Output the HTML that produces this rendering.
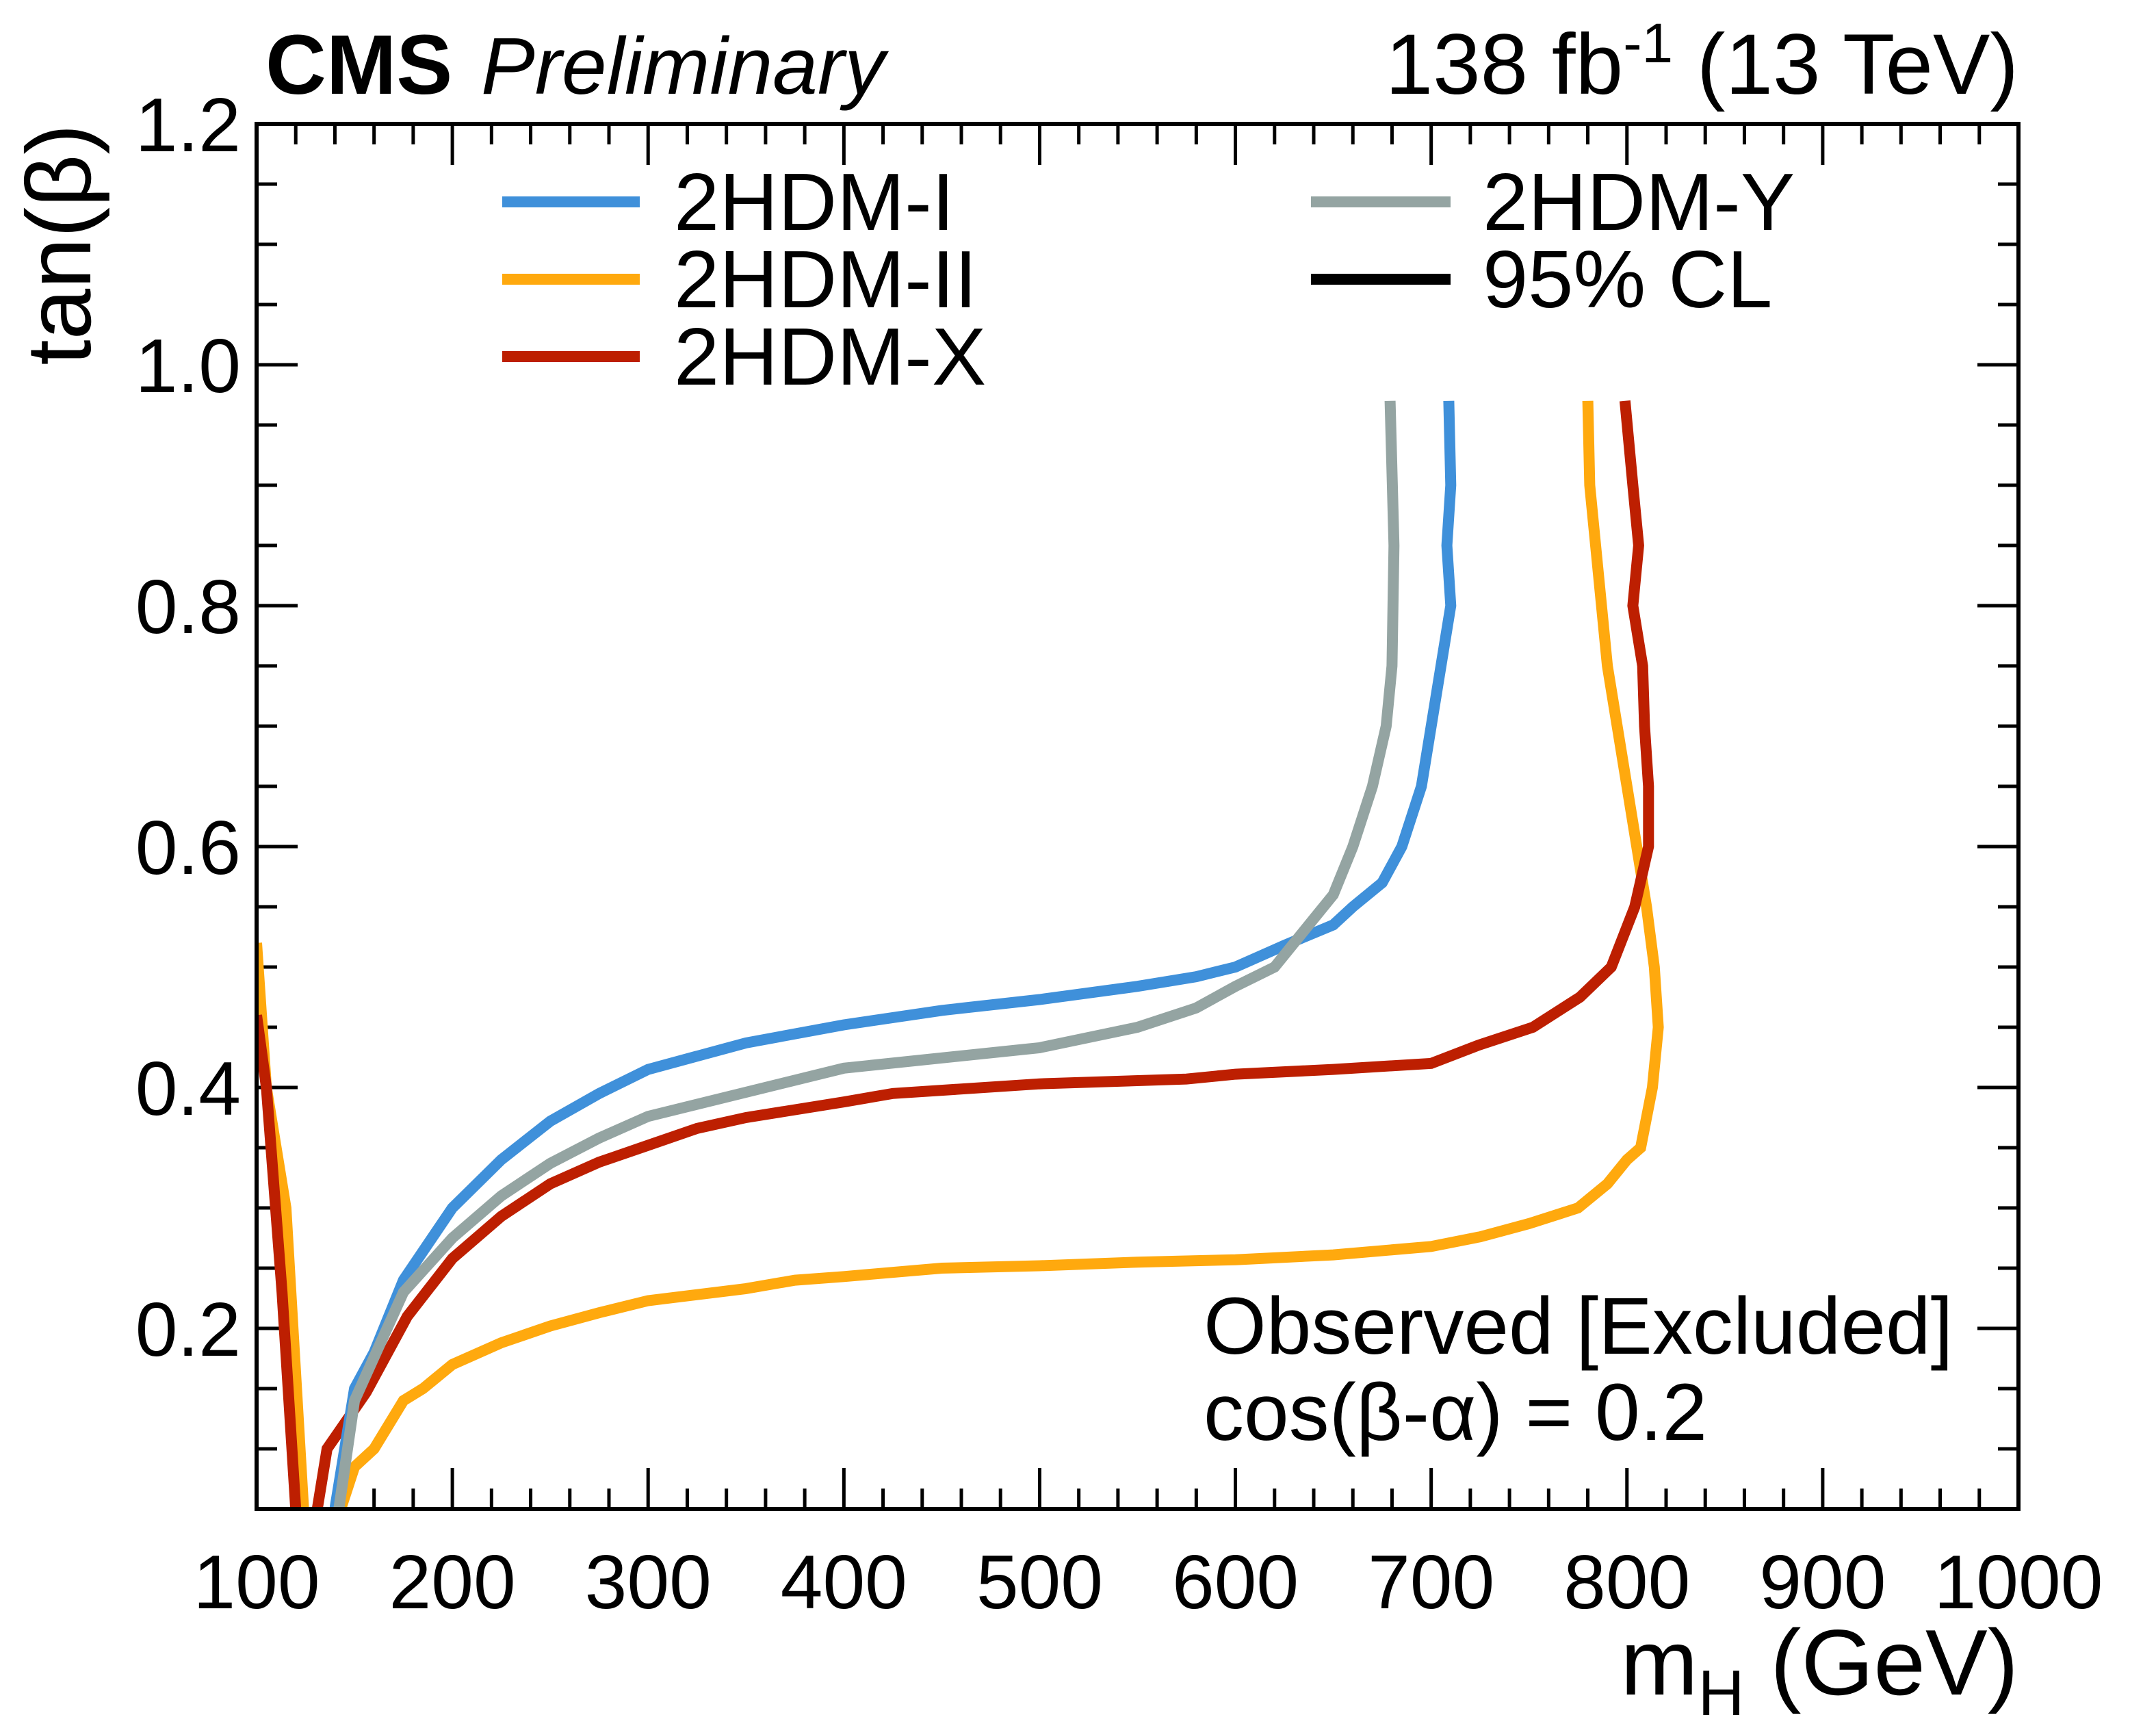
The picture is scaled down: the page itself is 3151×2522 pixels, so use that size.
<!DOCTYPE html>
<html><head><meta charset="utf-8"><style>
html,body{margin:0;padding:0;background:#fff;}
svg{display:block;font-family:"Liberation Sans",sans-serif;}
</style></head><body>
<svg id="chart" width="3151" height="2522" viewBox="0 0 3151 2522" xmlns="http://www.w3.org/2000/svg">
<defs><clipPath id="plotclip"><rect x="375" y="181" width="2575" height="2024"/></clipPath></defs>
<rect x="0" y="0" width="3151" height="2522" fill="#fff"/>
<g id="ticks"></g>
<g id="xlabels"></g>
<g id="ylabels"></g>
<g id="series" clip-path="url(#plotclip)"></g>
<rect x="375" y="181" width="2575" height="2024" fill="none" stroke="#000" stroke-width="6"/>
<text x="388" y="137" font-size="123" font-weight="bold">CMS</text>
<text x="703" y="137" font-size="118" font-style="italic">Preliminary</text>
<text x="2950" y="137" font-size="125" text-anchor="end">138 fb<tspan dy="-46" font-size="82">-1</tspan><tspan dy="46"> (13 TeV)</tspan></text>
<text x="2950" y="2476" font-size="136" text-anchor="end">m<tspan dy="30" font-size="94">H</tspan><tspan dy="-30"> (GeV)</tspan></text>
<text transform="translate(132,181) rotate(-90)" font-size="134" text-anchor="end">tan(β)</text>
<g>
<line x1="734" y1="295" x2="935" y2="295" stroke="#3f90da" stroke-width="16"/>
<text x="985" y="336" font-size="119">2HDM-I</text>
<line x1="734" y1="408" x2="935" y2="408" stroke="#ffa90e" stroke-width="16"/>
<text x="985" y="449" font-size="119">2HDM-II</text>
<line x1="734" y1="521" x2="935" y2="521" stroke="#bd1f01" stroke-width="16"/>
<text x="985" y="562" font-size="119">2HDM-X</text>
<line x1="1916" y1="295" x2="2120" y2="295" stroke="#94a4a2" stroke-width="16"/>
<text x="2167" y="336" font-size="119">2HDM-Y</text>
<line x1="1916" y1="408" x2="2120" y2="408" stroke="#000" stroke-width="16"/>
<text x="2167" y="449" font-size="119">95% CL</text>
</g>
<text x="1759" y="1978" font-size="118">Observed [Excluded]</text>
<text x="1759" y="2104" font-size="118">cos(β-α) = 0.2</text>
</svg>
<script>
const xTickValues = [100,200,300,400,500,600,700,800,900,1000];
const yTickValues = [0.2,0.4,0.6,0.8,1.0,1.2];
const yTickLabels = ["0.2","0.4","0.6","0.8","1.0","1.2"];

const iX1 = [140,150,160,175,200,225,250,275,300,350,400,450,500,550,580,600,625,650,660,675,685,695,700,705,710,708,710,709];
const iY1 = [0.05,0.15,0.18,0.24,0.30,0.34,0.372,0.395,0.415,0.437,0.452,0.464,0.473,0.484,0.492,0.50,0.518,0.535,0.55,0.57,0.60,0.65,0.70,0.75,0.80,0.85,0.90,0.97];

const yX1 = [142,150,175,200,225,250,275,300,400,500,550,580,600,620,640,650,660,670,677,680,681,679];
const yY1 = [0.05,0.14,0.23,0.275,0.31,0.337,0.358,0.376,0.416,0.433,0.45,0.466,0.484,0.50,0.54,0.56,0.60,0.65,0.70,0.75,0.85,0.97];

const xLeftX = [100,105,113,120];
const xLeftY = [0.46,0.40,0.23,0.05];
const xRightX = [131,136,156,177,200,225,250,275,300,325,350,400,425,500,575,600,650,700,724,752,776,792,804,811,811,809,808,803,806,803,799];
const xRightY = [0.05,0.10,0.147,0.21,0.258,0.293,0.32,0.338,0.352,0.366,0.375,0.388,0.395,0.403,0.407,0.411,0.415,0.42,0.435,0.45,0.475,0.50,0.55,0.60,0.65,0.70,0.75,0.80,0.85,0.90,0.97];

const iiLeftX = [100,105,115,124];
const iiLeftY = [0.52,0.40,0.30,0.05];
const iiRightX = [143,150,160,175,185,200,225,250,275,300,350,375,400,450,500,550,600,650,700,725,750,775,790,800,807,813,816,814,810,805,800,795,790,787,784,781,780];
const iiRightY = [0.05,0.085,0.10,0.14,0.15,0.17,0.188,0.202,0.213,0.223,0.233,0.24,0.243,0.25,0.252,0.255,0.257,0.261,0.268,0.276,0.287,0.30,0.32,0.34,0.35,0.40,0.45,0.50,0.55,0.60,0.65,0.70,0.75,0.80,0.85,0.90,0.97];

const NS = "http://www.w3.org/2000/svg";
const L=375,R=2950,T=181,B=2205, XMIN=100,XMAX=1000,YMIN=0.05,YMAX=1.2;
function sx(v){return L+(v-XMIN)/(XMAX-XMIN)*(R-L);}
function sy(v){return B-(v-YMIN)/(YMAX-YMIN)*(B-T);}

const ticks=document.getElementById('ticks');
function tick(x1,y1,x2,y2){
  const l=document.createElementNS(NS,'line');
  l.setAttribute('x1',x1);l.setAttribute('y1',y1);l.setAttribute('x2',x2);l.setAttribute('y2',y2);
  l.setAttribute('stroke','#000');l.setAttribute('stroke-width','5');
  
  
  ticks.appendChild(l);
}
for(let v=100;v<=1000;v+=20){
  const major=(v%100===0);const len=major?60:30;const x=sx(v);
  tick(x,B,x,B-len);tick(x,T,x,T+len);
}
for(let k=1;k<=24;k++){
  const v=0.05*k; if(v<YMIN-1e-9) continue;
  const major=(k%4===0);const len=major?60:30;const y=sy(v);
  tick(L,y,L+len,y);tick(R,y,R-len,y);
}
const xl=document.getElementById('xlabels');
xTickValues.forEach(v=>{
  const t=document.createElementNS(NS,'text');
  t.setAttribute('x',sx(v));t.setAttribute('y',2350);t.setAttribute('font-size','111');t.setAttribute('text-anchor','middle');
  t.textContent=String(v);
  
  
  xl.appendChild(t);
});
const yl=document.getElementById('ylabels');
yTickValues.forEach((v,i)=>{
  const t=document.createElementNS(NS,'text');
  t.setAttribute('x',352);t.setAttribute('y',sy(v)+40);t.setAttribute('font-size','111');t.setAttribute('text-anchor','end');
  t.textContent=yTickLabels[i];
  
  
  yl.appendChild(t);
});
const series=document.getElementById('series');
function draw(xs,ys,color,name){
  const p=document.createElementNS(NS,'polyline');
  p.setAttribute('points',xs.map((x,i)=>sx(x).toFixed(1)+','+sy(ys[i]).toFixed(1)).join(' '));
  p.setAttribute('fill','none');p.setAttribute('stroke',color);p.setAttribute('stroke-width','16');
  p.setAttribute('stroke-linejoin','miter');
  
  
  series.appendChild(p);
}
draw(iiLeftX,iiLeftY,'#ffa90e','line-2hdm-ii-left');
draw(xLeftX,xLeftY,'#bd1f01','line-2hdm-x-left');
draw(iiRightX,iiRightY,'#ffa90e','line-2hdm-ii');
draw(xRightX,xRightY,'#bd1f01','line-2hdm-x');
draw(iX1,iY1,'#3f90da','line-2hdm-i');
draw(yX1,yY1,'#94a4a2','line-2hdm-y');
</script>
</body></html>
